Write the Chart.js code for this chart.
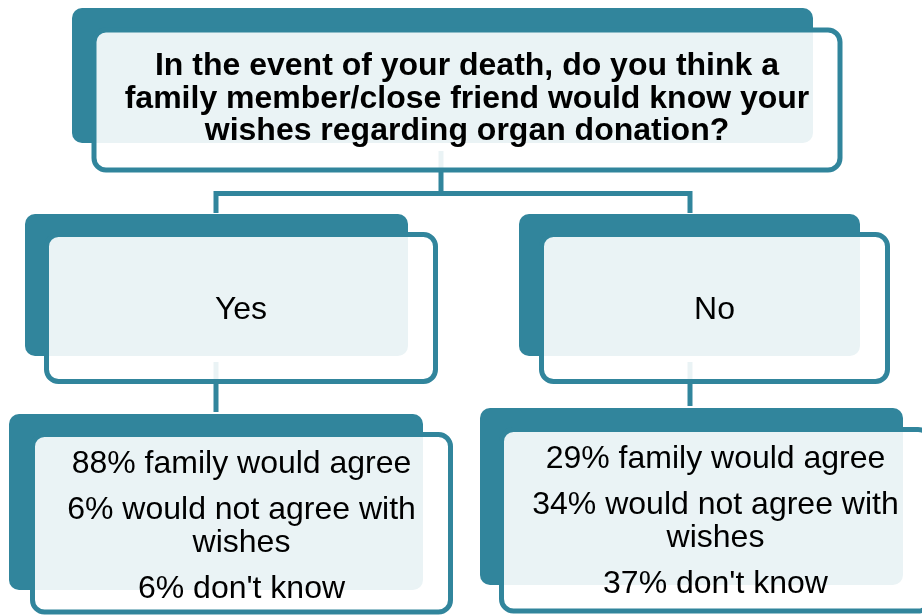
<!DOCTYPE html>
<html>
<head>
<meta charset="utf-8">
<script src="https://cdn.jsdelivr.net/npm/chart.js@4"></script>
<style>
  html, body { margin: 0; padding: 0; background: #fff; }
  #wrap { width: 922px; height: 616px; }
</style>
</head>
<body>
<div id="wrap"><canvas id="tree" width="922" height="616"></canvas></div>
<script>
// survey text and results
const question = [
  "In the event of your death, do you think a",
  "family member/close friend would know your",
  "wishes regarding organ donation?"
];
const answers = ["Yes", "No"];
const outcomes = [["family would agree"], ["would not agree with", "wishes"], ["don't know"]];
const yesValues = [88, 6, 6];
const noValues = [29, 34, 37];

const teal = "#31859c";
const veil = "rgba(255,255,255,0.9)";

// box geometry in page units (back = filled block, front = outlined card)
const boxes = {
  top: { back: [72, 8, 813, 143], front: [94, 30, 840, 170] },
  yes: { back: [25, 214, 408, 356], front: [46.5, 234.5, 435.5, 381.5] },
  no: { back: [519, 214, 860, 356], front: [541.5, 234.5, 887.5, 381.5] },
  yesOut: { back: [9, 414, 423, 590], front: [32.5, 434.5, 450.5, 612] },
  noOut: { back: [480, 408, 903, 585], front: [501.5, 429.5, 930, 611] }
};
const links = [
  [[441, 151], [441, 193.5]],
  [[216, 193.5], [690, 193.5]],
  [[216, 191], [216, 213]],
  [[690, 191], [690, 213]],
  [[216, 362], [216, 412]],
  [[690, 362], [690, 406]]
];

function rrect(ctx, x0, y0, x1, y1, r) {
  ctx.beginPath();
  ctx.moveTo(x0 + r, y0);
  ctx.lineTo(x1 - r, y0);
  ctx.arcTo(x1, y0, x1, y0 + r, r);
  ctx.lineTo(x1, y1 - r);
  ctx.arcTo(x1, y1, x1 - r, y1, r);
  ctx.lineTo(x0 + r, y1);
  ctx.arcTo(x0, y1, x0, y1 - r, r);
  ctx.lineTo(x0, y0 + r);
  ctx.arcTo(x0, y0, x0 + r, y0, r);
  ctx.closePath();
}

const treePlugin = {
  id: "tree",
  afterDraw(chart) {
    const ctx = chart.ctx;
    const sx = chart.scales.x, sy = chart.scales.y;
    const px = v => sx.getPixelForValue(v);
    const py = v => sy.getPixelForValue(v);
    const r4 = b => [px(b[0]), py(b[1]), px(b[2]), py(b[3])];

    ctx.save();
    ctx.strokeStyle = teal;
    ctx.lineWidth = 5;
    ctx.lineCap = "butt";
    links.forEach(l => {
      ctx.beginPath();
      ctx.moveTo(px(l[0][0]), py(l[0][1]));
      ctx.lineTo(px(l[1][0]), py(l[1][1]));
      ctx.stroke();
    });

    Object.values(boxes).forEach(b => {
      const bk = r4(b.back), fr = r4(b.front);
      rrect(ctx, bk[0], bk[1], bk[2], bk[3], 10);
      ctx.fillStyle = teal;
      ctx.fill();
      rrect(ctx, fr[0], fr[1], fr[2], fr[3], 12);
      ctx.fillStyle = veil;
      ctx.fill();
      ctx.lineWidth = 5;
      ctx.strokeStyle = teal;
      ctx.stroke();
    });

    ctx.fillStyle = "#000";
    ctx.textAlign = "center";
    ctx.textBaseline = "alphabetic";

    // question
    const q = boxes.top.front;
    ctx.font = "bold 32px 'Liberation Sans', Arial, sans-serif";
    question.forEach((line, i) => {
      ctx.fillText(line, px((q[0] + q[2]) / 2), py(75 + i * 32.5));
    });

    // answers
    ctx.font = "32px 'Liberation Sans', Arial, sans-serif";
    [boxes.yes, boxes.no].forEach((b, i) => {
      const f = b.front;
      ctx.fillText(answers[i], px((f[0] + f[2]) / 2), py((f[1] + f[3]) / 2 + 11));
    });

    // outcomes
    ctx.font = "32px 'Liberation Sans', Arial, sans-serif";
    [[boxes.yesOut, yesValues, 241.5], [boxes.noOut, noValues, 715.5]].forEach(([b, vals, cx]) => {
      let y = b.front[1] + 38.5;
      outcomes.forEach((lines, k) => {
        lines.forEach((line, j) => {
          const txt = j === 0 ? vals[k] + "% " + line : line;
          ctx.fillText(txt, px(cx), py(y));
          y += 33;
        });
        y += 13;
      });
    });
    ctx.restore();
  }
};

new Chart(document.getElementById("tree"), {
  type: "scatter",
  data: { datasets: [{ data: [], showLine: false }] },
  options: {
    responsive: false,
    animation: false,
    layout: { padding: 0 },
    plugins: { legend: { display: false }, tooltip: { enabled: false } },
    scales: {
      x: { type: "linear", min: 0, max: 922, display: false },
      y: { type: "linear", min: 0, max: 616, reverse: true, display: false }
    }
  },
  plugins: [treePlugin]
});
</script>
</body>
</html>
